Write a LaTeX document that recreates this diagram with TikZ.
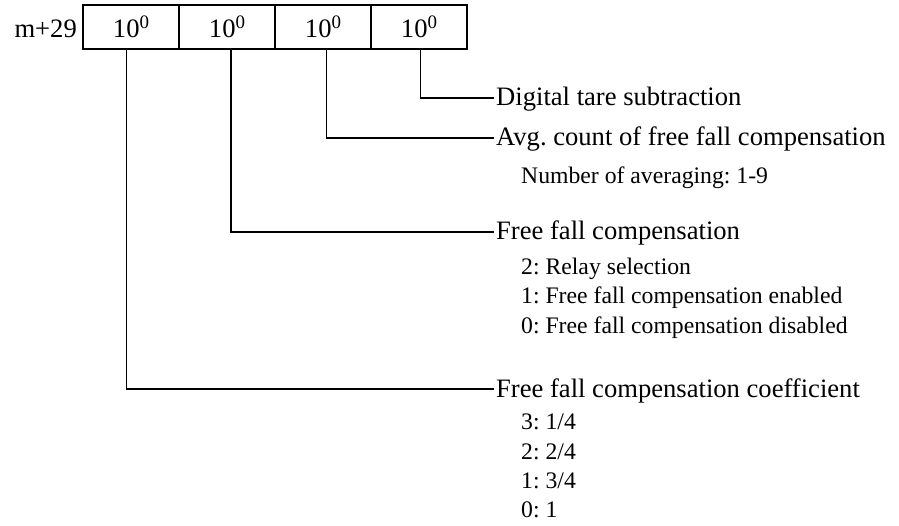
\documentclass[tikz,border=0pt]{standalone}
\usepackage{fontspec}
\setmainfont{Liberation Serif}
\usetikzlibrary{positioning}

\newcommand{\decpow}{10\raisebox{0.35em}{\fontsize{19}{19}\selectfont 0}}

\begin{document}
\frenchspacing
\begin{tikzpicture}[
    x=1pt, y=-1pt,
    cell/.style={rectangle, draw, line width=1.3pt, outer sep=0pt,
                 minimum width=96pt, minimum height=44pt, inner sep=0pt,
                 font=\fontsize{26.6}{30}\selectfont},
    lbl/.style={anchor=base west, yshift=-8pt, inner sep=2pt,
                font=\fontsize{26.6}{30}\selectfont},
    opts/.style={anchor=north west, inner sep=0pt, align=left,
                 font=\fontsize{23.7}{29.3}\selectfont},
    wire/.style={line width=1.3pt},
  ]
    \useasboundingbox (0,0) rectangle (899,526);

    % register m+29
    \node[cell] (b1) at (131,27) {\decpow};
    \node[cell, right=0pt of b1] (b2) {\decpow};
    \node[cell, right=0pt of b2] (b3) {\decpow};
    \node[cell, right=0pt of b3] (b4) {\decpow};
    \node[anchor=base east, xshift=-6pt, inner sep=0pt,
          font=\fontsize{26.6}{30}\selectfont] (reg) at (b1.base -| b1.west) {m+29};

    % line ends
    \coordinate (e1) at (494,98);
    \coordinate (e2) at (494,138);
    \coordinate (e3) at (494,232);
    \coordinate (e4) at (494,389);

    % digit 1
    \node[lbl] (tare) at (e1) {Digital tare subtraction};

    % digit 2
    \node[lbl] (avg) at (e2) {Avg. count of free fall compensation};
    \node[opts] (avgopt) at (521,167) {Number of averaging: 1-9};

    % digit 3
    \node[lbl] (ffc) at (e3) {Free fall compensation};
    \node[opts] (ffcopt) at (521,258) {
      2: Relay selection\\
      1: Free fall compensation enabled\\
      0: Free fall compensation disabled
    };

    % digit 4
    \node[lbl] (coef) at (e4) {Free fall compensation coefficient};
    \node[opts] (coefopt) at (521,414) {
      3: 1/4\\
      2: 2/4\\
      1: 3/4\\
      0: 1
    };

    \draw[wire] ([xshift=1.7pt]b4.south) |- (e1);
    \draw[wire] ([xshift=3.7pt]b3.south) |- (e2);
    \draw[wire] ([xshift=4pt]b2.south) |- (e3);
    \draw[wire] ([xshift=-4.3pt]b1.south) |- (e4);
  \end{tikzpicture}
\end{document}
